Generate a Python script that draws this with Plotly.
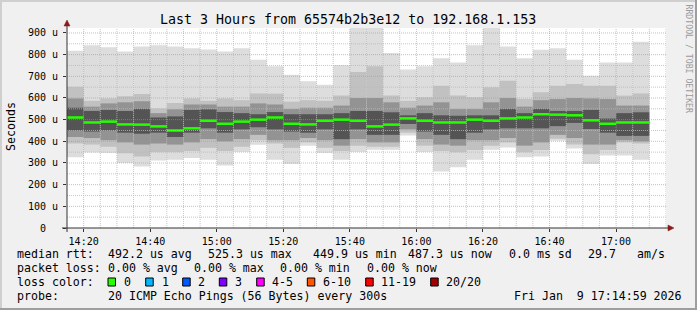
import plotly.graph_objects as go
import pandas as pd

# ---------------- data ----------------
slot_start = pd.date_range("2026-01-09 14:15:00", periods=35, freq="5min")

median = [510, 487, 491, 478, 477, 469, 450, 460, 495, 481, 491, 500, 510, 481, 478, 495, 500, 495,
          469, 477, 506, 495, 487, 487, 500, 495, 506, 510, 525, 523, 520, 497, 481, 487, 487]

top1 = [818, 843, 834, 815, 838, 843, 838, 829, 824, 815, 829, 777, 746, 707, 677, 661, 752, 1000,
        1000, 808, 731, 746, 783, 764, 843, 1000, 838, 783, 823, 829, 777, 703, 764, 764, 860]
top2 = [652, 587, 598, 608, 618, 552, 577, 598, 587, 598, 590, 621, 620, 583, 590, 587, 611, 720,
        746, 611, 587, 603, 657, 611, 603, 650, 680, 595, 626, 657, 665, 657, 657, 611, 621]
top3 = [598, 560, 575, 580, 585, 530, 548, 570, 570, 560, 560, 575, 570, 550, 555, 555, 565, 600,
        600, 580, 555, 565, 580, 550, 550, 580, 600, 560, 590, 595, 600, 598, 595, 565, 565]
top4 = [555, 540, 545, 540, 550, 510, 515, 545, 548, 535, 530, 525, 535, 525, 525, 525, 530, 540,
        540, 534, 520, 530, 520, 518, 520, 520, 550, 530, 550, 540, 540, 545, 505, 530, 534]
bot4 = [450, 445, 450, 440, 435, 440, 420, 440, 460, 440, 455, 465, 455, 445, 440, 455, 410, 455,
        430, 430, 480, 445, 430, 410, 440, 455, 460, 460, 460, 470, 485, 457, 440, 425, 425]
bot3 = [420, 415, 405, 395, 385, 390, 385, 395, 410, 400, 410, 430, 405, 405, 415, 405, 380, 410,
        395, 395, 455, 410, 385, 380, 405, 405, 415, 380, 395, 430, 415, 385, 385, 405, 400]
bot2 = [390, 385, 375, 345, 330, 350, 350, 355, 370, 355, 375, 405, 390, 370, 395, 370, 355, 380,
        375, 375, 440, 380, 355, 350, 360, 380, 395, 350, 360, 412, 385, 340, 360, 395, 390]
bot1 = [326, 349, 346, 300, 284, 311, 315, 323, 315, 289, 351, 384, 315, 295, 380, 346, 315, 351,
        361, 361, 427, 351, 261, 280, 315, 361, 372, 326, 330, 403, 367, 295, 335, 335, 315]

x_tick_labels = ["14:20", "14:40", "15:00", "15:20", "15:40", "16:00", "16:20", "16:40", "17:00"]
y_tick_values = [0, 100, 200, 300, 400, 500, 600, 700, 800, 900]
y_tick_labels = ["0\u00a0\u00a0"] + [f"{v}\u00a0u" for v in y_tick_values[1:]]

loss_labels = ["0", "1", "2", "3", "4-5", "6-10", "11-19", "20/20"]
loss_colors = ["#26ff00", "#00b8ff", "#0059ff", "#7e00ff", "#ff00ff", "#ff5500", "#ff0000", "#a10000"]

DAY = "2026-01-09 "
X_START, X_END = DAY + "14:15:00", DAY + "17:15:00"
Y_MAX = 923

# ---------------- geometry helpers ----------------
W, H = 697, 310
L, R, T, B = 67, 31, 28, 82
PW, PH = W - L - R, H - T - B


def px(xp):
    return (xp - L) / PW


def py(yp):
    return (H - B - yp) / PH


MONO = "DejaVu Sans Mono"
fig = go.Figure()

step = pd.Timedelta(minutes=5)
width_ms = step.total_seconds() * 1000

layers = [(top1, bot1, "#dddddd"), (top2, bot2, "#c1c1c1"),
          (top3, bot3, "#939393"), (top4, bot4, "#545454")]
for hi, lo, col in layers:
    fig.add_trace(go.Bar(
        x=slot_start, y=[h - l for h, l in zip(hi, lo)], base=lo,
        width=width_ms, offset=0,
        marker=dict(color=col, line=dict(width=0)),
        hoverinfo="skip", showlegend=False))

mx, my = [], []
for t, m in zip(slot_start, median):
    mx += [t, t + step, None]
    my += [m, m, None]
fig.add_trace(go.Scatter(x=mx, y=my, mode="lines",
                         line=dict(color=loss_colors[0], width=2.5),
                         hoverinfo="skip", showlegend=False))

shapes = []
# grid (drawn above the data, like rrdtool)
minor_times = pd.date_range(X_START, X_END, freq="5min")[1:]
major_times = [pd.Timestamp(DAY + s) for s in x_tick_labels]
for t in minor_times:
    if t in major_times:
        continue
    shapes.append(dict(type="line", xref="x", yref="paper", x0=t, x1=t, y0=0, y1=1,
                       layer="above", line=dict(color="rgba(185,185,185,0.8)", width=1, dash="1px,1px")))
for t in major_times:
    shapes.append(dict(type="line", xref="x", yref="paper", x0=t, x1=t, y0=0, y1=1,
                       layer="above", line=dict(color="rgba(255,110,110,0.6)", width=1, dash="1px,1px")))
for v in range(50, Y_MAX, 100):
    shapes.append(dict(type="line", xref="paper", yref="y", x0=0, x1=1, y0=v, y1=v,
                       layer="above", line=dict(color="rgba(185,185,185,0.8)", width=1, dash="1px,1px")))
for v in y_tick_values[1:]:
    shapes.append(dict(type="line", xref="paper", yref="y", x0=0, x1=1, y0=v, y1=v,
                       layer="above", line=dict(color="rgba(255,110,110,0.6)", width=1, dash="1px,1px")))

# axes with arrows
AX = "#333333"
ARW = "#8b1a1a"
shapes.append(dict(type="line", xref="paper", yref="paper", x0=px(62), x1=px(670), y0=0, y1=0,
                   layer="above", line=dict(color=AX, width=1)))
shapes.append(dict(type="line", xref="paper", yref="paper", x0=0, x1=0, y0=py(232), y1=py(25),
                   layer="above", line=dict(color=AX, width=1)))
shapes.append(dict(type="path", xref="paper", yref="paper", layer="above",
                   path=f"M {px(668)} {py(225)} L {px(674)} {py(228)} L {px(668)} {py(231)} Z",
                   fillcolor=ARW, line=dict(color=ARW, width=0.5)))
shapes.append(dict(type="path", xref="paper", yref="paper", layer="above",
                   path=f"M {px(64)} {py(26)} L {px(67)} {py(20)} L {px(70)} {py(26)} Z",
                   fillcolor=ARW, line=dict(color=ARW, width=0.5)))

# frame shading
for (x0, x1, y0, y1, c) in [(0, W, 0, 2, "#cfcfcf"), (0, 2, 0, H, "#cfcfcf"),
                            (0, W, H - 2, H, "#9e9e9e"), (W - 2, W, 0, H, "#9e9e9e")]:
    shapes.append(dict(type="rect", xref="paper", yref="paper", layer="above",
                       x0=px(x0), x1=px(x1), y0=py(y0), y1=py(y1),
                       fillcolor=c, line=dict(width=0)))

# legend colour boxes
box_left = [108, 145.7, 182.7, 219.3, 256.7, 307.3, 365.7, 430.7]
label_left = [123.3, 160.7, 197.3, 234.3, 271, 322, 380, 445]
for bx, c in zip(box_left, loss_colors):
    shapes.append(dict(type="rect", xref="paper", yref="paper", layer="above",
                       x0=px(bx), x1=px(bx + 7.5), y0=py(278), y1=py(286),
                       fillcolor=c, line=dict(color="black", width=1)))

ann = []


def text(s, x, y, size=11.6, anchor="left", color="black", angle=0):
    ann.append(dict(text=s, x=px(x), y=py(y), xref="paper", yref="paper", showarrow=False,
                    xanchor=anchor, yanchor="middle", borderpad=0, textangle=angle,
                    font=dict(family=MONO, size=size, color=color)))


text("Last 3 Hours from 65574b2b3e12 to 192.168.1.153", 348, 19, size=13.3, anchor="center")
text("Seconds", 11, 127, anchor="center", angle=-90)
text("RRDTOOL / TOBI OETIKER", 688.5, 59, size=8.2, anchor="center", color="#9a9a9a", angle=90)

ly = [254.3, 268.3, 282.3, 295.7]
text("median rtt:", 16, ly[0])
for s, x in [("492.2 us avg", 107), ("525.3 us max", 207), ("449.9 us min", 312),
             ("487.3 us now", 407.3), ("0.0 ms sd", 507.7), ("29.7", 586.7), ("am/s", 636)]:
    text(s, x, ly[0])
text("packet loss:", 16, ly[1])
for s, x in [("0.00 % avg", 107), ("0.00 % max", 193.3), ("0.00 % min", 279.3), ("0.00 % now", 365.7)]:
    text(s, x, ly[1])
text("loss color:", 16, ly[2])
for s, x in zip(loss_labels, label_left):
    text(s, x, ly[2])
text("probe:", 16, ly[3])
text("20 ICMP Echo Pings (56 Bytes) every 300s", 107, ly[3])
text("Fri Jan  9 17:14:59 2026".replace("  ", "\u00a0\u00a0"), 513.3, ly[3])

fig.update_layout(
    width=W, height=H, margin=dict(l=L, r=R, t=T, b=B, autoexpand=False),
    paper_bgcolor="#f0f0f0", plot_bgcolor="#ffffff",
    barmode="overlay", showlegend=False, hovermode=False,
    shapes=shapes, annotations=ann,
    xaxis=dict(type="date", range=[X_START, X_END], showgrid=False, zeroline=False, showline=False,
               tickvals=major_times, ticktext=x_tick_labels, ticks="outside", ticklen=3,
               tickcolor=AX, tickfont=dict(family=MONO, size=10, color="black"),
               ticklabelstandoff=1, fixedrange=True),
    yaxis=dict(range=[0, Y_MAX], showgrid=False, zeroline=False, showline=False,
               tickvals=y_tick_values, ticktext=y_tick_labels, ticks="outside", ticklen=3,
               tickcolor=AX, tickfont=dict(family=MONO, size=10, color="black"),
               ticklabelstandoff=3, fixedrange=True),
)

fig.write_html("out.html")
